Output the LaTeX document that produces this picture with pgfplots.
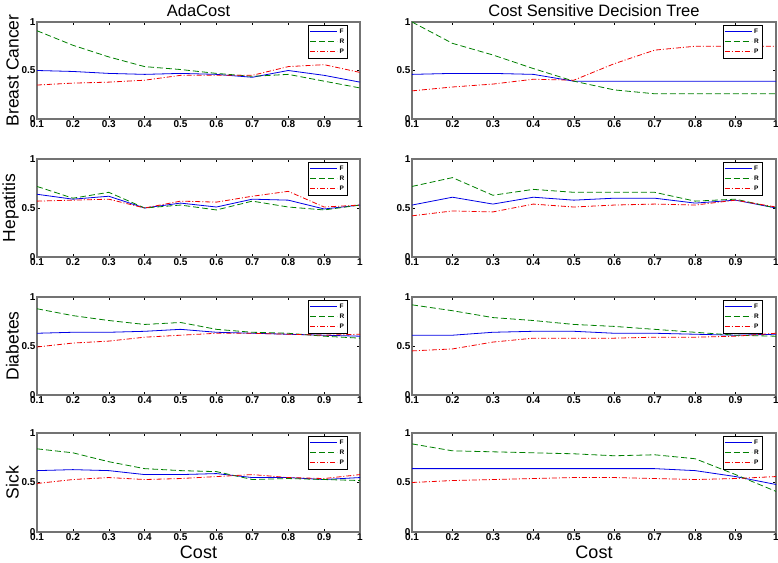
\documentclass[border=0pt]{standalone}
\usepackage{pgfplots}
\pgfplotsset{compat=1.18}
\usepackage{fontspec}
\setmainfont{Liberation Sans}
\definecolor{fblue}{rgb}{0,0,0.9}
\definecolor{rgreen}{rgb}{0,0.5,0}
\definecolor{pred}{rgb}{0.95,0,0}
\tikzset{
  fl/.style={fblue, solid},
  rl/.style={rgreen, dash pattern=on 6pt off 3pt},
  pl/.style={pred, dash pattern=on 5pt off 2pt on 1pt off 2pt},
}
\pgfplotsset{
  panel/.style={
    scale only axis,
    xmin=0.1, xmax=1, ymin=0, ymax=1,
    xtick={0.1,0.2,0.3,0.4,0.5,0.6,0.7,0.8,0.9,1},
    xticklabels={0.1,0.2,0.3,0.4,0.5,0.6,0.7,0.8,0.9,1},
    ytick={0,0.5,1}, yticklabels={0,0.5,1},
    axis line style={draw=black!55, line width=1.3pt},
    tick style={black, line width=0.4pt},
    tick align=inside, major tick length=3pt,
    ticklabel style={font=\bfseries\fontsize{10}{11}\selectfont},
    xticklabel style={yshift=2pt},
    yticklabel style={xshift=2pt},
    /pgf/number format/assume math mode=true,
    ylabel style={font=\fontsize{17.5}{18}\selectfont, yshift=-4pt},
    title style={font=\fontsize{16.5}{17}\selectfont, yshift=-4pt},
    xlabel style={font=\fontsize{18}{19}\selectfont, yshift=2pt},
    legend style={at={(rel axis cs:0.962,0.967)}, anchor=north east,
      font=\bfseries\fontsize{6.5}{6.5}\selectfont, draw=black, line width=0.5pt,
      inner sep=1.2pt, row sep=0pt, cells={anchor=west}},
    legend image code/.code={\draw[##1, line width=0.8pt] (0pt,0pt) -- (27pt,0pt);},
    every axis plot/.append style={line width=0.8pt},
  },
}
\begin{document}
\begin{tikzpicture}
\useasboundingbox (0pt,0pt) rectangle (778pt,562pt);
% ---------- Row 1: Breast Cancer
\begin{axis}[panel, width=323pt, height=97pt, at={(37pt,540pt)}, anchor=north west,
  title={AdaCost}, ylabel={Breast Cancer}]
\addplot[fl] coordinates {(0.1,0.50)(0.2,0.49)(0.3,0.47)(0.4,0.46)(0.5,0.47)(0.6,0.46)(0.7,0.43)(0.8,0.50)(0.9,0.45)(1,0.38)};
\addplot[rl] coordinates {(0.1,0.91)(0.2,0.76)(0.3,0.64)(0.4,0.54)(0.5,0.51)(0.6,0.47)(0.7,0.44)(0.8,0.46)(0.9,0.39)(1,0.32)};
\addplot[pl] coordinates {(0.1,0.35)(0.2,0.37)(0.3,0.38)(0.4,0.40)(0.5,0.45)(0.6,0.45)(0.7,0.45)(0.8,0.54)(0.9,0.56)(1,0.48)};
\legend{F,R,P}
\end{axis}
\begin{axis}[panel, width=364pt, height=97pt, at={(412pt,540pt)}, anchor=north west,
  title={Cost Sensitive Decision Tree}]
\addplot[fl] coordinates {(0.1,0.46)(0.2,0.47)(0.3,0.47)(0.4,0.46)(0.5,0.39)(0.6,0.39)(0.7,0.39)(0.8,0.39)(0.9,0.39)(1,0.39)};
\addplot[rl] coordinates {(0.1,1.00)(0.2,0.78)(0.3,0.66)(0.4,0.52)(0.5,0.39)(0.6,0.30)(0.7,0.26)(0.8,0.26)(0.9,0.26)(1,0.26)};
\addplot[pl] coordinates {(0.1,0.29)(0.2,0.33)(0.3,0.36)(0.4,0.41)(0.5,0.40)(0.6,0.57)(0.7,0.71)(0.8,0.75)(0.9,0.75)(1,0.75)};
\legend{F,R,P}
\end{axis}
% ---------- Row 2: Hepatitis
\begin{axis}[panel, width=323pt, height=98pt, at={(37pt,403pt)}, anchor=north west,
  ylabel={Hepatitis}]
\addplot[fl] coordinates {(0.1,0.64)(0.2,0.59)(0.3,0.62)(0.4,0.50)(0.5,0.55)(0.6,0.51)(0.7,0.59)(0.8,0.58)(0.9,0.49)(1,0.53)};
\addplot[rl] coordinates {(0.1,0.72)(0.2,0.60)(0.3,0.66)(0.4,0.50)(0.5,0.53)(0.6,0.48)(0.7,0.57)(0.8,0.51)(0.9,0.48)(1,0.53)};
\addplot[pl] coordinates {(0.1,0.57)(0.2,0.58)(0.3,0.59)(0.4,0.50)(0.5,0.57)(0.6,0.56)(0.7,0.62)(0.8,0.67)(0.9,0.51)(1,0.53)};
\legend{F,R,P}
\end{axis}
\begin{axis}[panel, width=364pt, height=98pt, at={(412pt,403pt)}, anchor=north west]
\addplot[fl] coordinates {(0.1,0.53)(0.2,0.61)(0.3,0.54)(0.4,0.61)(0.5,0.58)(0.6,0.60)(0.7,0.60)(0.8,0.55)(0.9,0.58)(1,0.50)};
\addplot[rl] coordinates {(0.1,0.72)(0.2,0.81)(0.3,0.63)(0.4,0.69)(0.5,0.66)(0.6,0.66)(0.7,0.66)(0.8,0.57)(0.9,0.59)(1,0.50)};
\addplot[pl] coordinates {(0.1,0.42)(0.2,0.47)(0.3,0.46)(0.4,0.54)(0.5,0.51)(0.6,0.53)(0.7,0.54)(0.8,0.53)(0.9,0.58)(1,0.51)};
\legend{F,R,P}
\end{axis}
% ---------- Row 3: Diabetes
\begin{axis}[panel, width=323pt, height=98pt, at={(37pt,265pt)}, anchor=north west,
  ylabel={Diabetes}]
\addplot[fl] coordinates {(0.1,0.63)(0.2,0.64)(0.3,0.64)(0.4,0.65)(0.5,0.67)(0.6,0.64)(0.7,0.63)(0.8,0.62)(0.9,0.61)(1,0.60)};
\addplot[rl] coordinates {(0.1,0.88)(0.2,0.81)(0.3,0.76)(0.4,0.72)(0.5,0.74)(0.6,0.67)(0.7,0.64)(0.8,0.63)(0.9,0.60)(1,0.58)};
\addplot[pl] coordinates {(0.1,0.49)(0.2,0.53)(0.3,0.55)(0.4,0.59)(0.5,0.61)(0.6,0.63)(0.7,0.63)(0.8,0.62)(0.9,0.61)(1,0.62)};
\legend{F,R,P}
\end{axis}
\begin{axis}[panel, width=364pt, height=98pt, at={(412pt,265pt)}, anchor=north west]
\addplot[fl] coordinates {(0.1,0.61)(0.2,0.61)(0.3,0.64)(0.4,0.65)(0.5,0.65)(0.6,0.63)(0.7,0.63)(0.8,0.62)(0.9,0.61)(1,0.62)};
\addplot[rl] coordinates {(0.1,0.92)(0.2,0.86)(0.3,0.79)(0.4,0.76)(0.5,0.72)(0.6,0.70)(0.7,0.67)(0.8,0.64)(0.9,0.61)(1,0.60)};
\addplot[pl] coordinates {(0.1,0.45)(0.2,0.47)(0.3,0.54)(0.4,0.58)(0.5,0.58)(0.6,0.58)(0.7,0.59)(0.8,0.59)(0.9,0.60)(1,0.63)};
\legend{F,R,P}
\end{axis}
% ---------- Row 4: Sick
\begin{axis}[panel, width=323pt, height=99pt, at={(37pt,129pt)}, anchor=north west,
  ylabel={Sick}, xlabel={Cost}]
\addplot[fl] coordinates {(0.1,0.62)(0.2,0.63)(0.3,0.62)(0.4,0.58)(0.5,0.58)(0.6,0.59)(0.7,0.55)(0.8,0.55)(0.9,0.53)(1,0.55)};
\addplot[rl] coordinates {(0.1,0.84)(0.2,0.80)(0.3,0.71)(0.4,0.64)(0.5,0.62)(0.6,0.61)(0.7,0.53)(0.8,0.54)(0.9,0.53)(1,0.52)};
\addplot[pl] coordinates {(0.1,0.49)(0.2,0.53)(0.3,0.55)(0.4,0.53)(0.5,0.54)(0.6,0.56)(0.7,0.58)(0.8,0.55)(0.9,0.54)(1,0.58)};
\legend{F,R,P}
\end{axis}
\begin{axis}[panel, width=364pt, height=99pt, at={(412pt,129pt)}, anchor=north west,
  xlabel={Cost}]
\addplot[fl] coordinates {(0.1,0.64)(0.2,0.64)(0.3,0.64)(0.4,0.64)(0.5,0.64)(0.6,0.64)(0.7,0.64)(0.8,0.62)(0.9,0.56)(1,0.48)};
\addplot[rl] coordinates {(0.1,0.89)(0.2,0.82)(0.3,0.81)(0.4,0.80)(0.5,0.79)(0.6,0.77)(0.7,0.78)(0.8,0.74)(0.9,0.58)(1,0.41)};
\addplot[pl] coordinates {(0.1,0.50)(0.2,0.52)(0.3,0.53)(0.4,0.54)(0.5,0.55)(0.6,0.55)(0.7,0.54)(0.8,0.53)(0.9,0.54)(1,0.56)};
\legend{F,R,P}
\end{axis}
\end{tikzpicture}
\end{document}
